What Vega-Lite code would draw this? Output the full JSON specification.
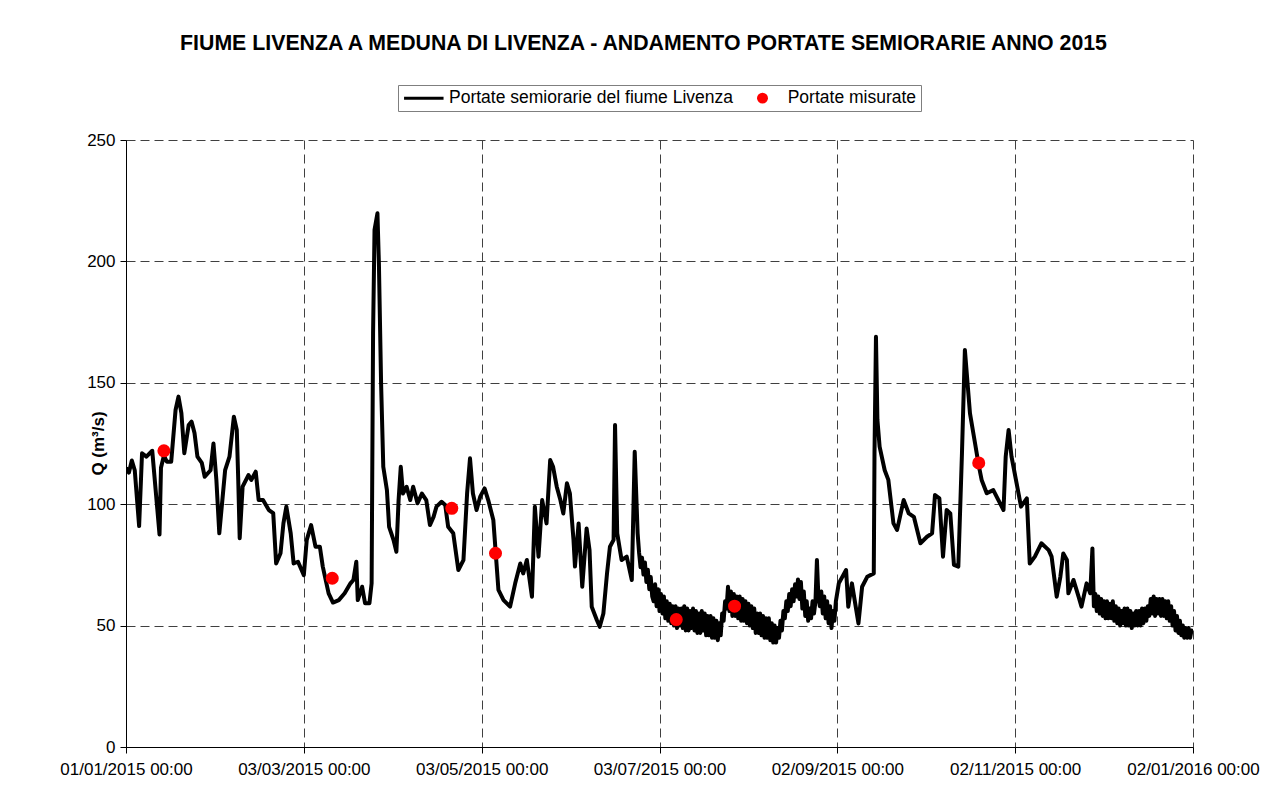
{
  "$schema": "https://vega.github.io/schema/vega-lite/v6.json",
  "width": 1067,
  "height": 607,
  "autosize": {"type": "none"},
  "padding": {"left": 126, "top": 140, "right": 77, "bottom": 51},
  "background": "white",
  "config": {"font": "Liberation Sans", "view": {"stroke": null}},
  "title": {
    "text": "FIUME LIVENZA A MEDUNA DI LIVENZA - ANDAMENTO PORTATE SEMIORARIE ANNO 2015",
    "fontSize": 21.3,
    "fontWeight": "bold",
    "color": "black",
    "frame": "group",
    "anchor": "middle",
    "dx": -16,
    "dy": -30,
    "offset": 0
  },
  "datasets": {
    "flow": [
      {"t": "2015-01-01T00:00", "q": 115},
      {"t": "2015-01-02T00:00", "q": 113},
      {"t": "2015-01-03T00:00", "q": 118},
      {"t": "2015-01-04T00:00", "q": 114},
      {"t": "2015-01-05T12:00", "q": 91},
      {"t": "2015-01-06T12:00", "q": 121},
      {"t": "2015-01-08T00:00", "q": 119.6},
      {"t": "2015-01-10T00:00", "q": 122},
      {"t": "2015-01-12T12:00", "q": 87.5},
      {"t": "2015-01-13T00:00", "q": 115},
      {"t": "2015-01-14T00:00", "q": 120},
      {"t": "2015-01-15T00:00", "q": 117.5},
      {"t": "2015-01-16T12:00", "q": 117.5},
      {"t": "2015-01-18T00:00", "q": 138.8},
      {"t": "2015-01-19T00:00", "q": 144.3},
      {"t": "2015-01-20T00:00", "q": 137.5},
      {"t": "2015-01-21T00:00", "q": 121},
      {"t": "2015-01-22T12:00", "q": 132.6},
      {"t": "2015-01-23T12:00", "q": 134},
      {"t": "2015-01-24T12:00", "q": 129.3},
      {"t": "2015-01-25T12:00", "q": 119.6},
      {"t": "2015-01-27T00:00", "q": 117},
      {"t": "2015-01-28T00:00", "q": 111.3},
      {"t": "2015-01-30T00:00", "q": 114},
      {"t": "2015-01-31T00:00", "q": 125},
      {"t": "2015-02-01T00:00", "q": 110},
      {"t": "2015-02-02T00:00", "q": 88},
      {"t": "2015-02-04T00:00", "q": 114},
      {"t": "2015-02-05T12:00", "q": 119.6},
      {"t": "2015-02-07T00:00", "q": 136},
      {"t": "2015-02-08T00:00", "q": 130.6},
      {"t": "2015-02-08T12:00", "q": 110},
      {"t": "2015-02-09T00:00", "q": 86},
      {"t": "2015-02-10T00:00", "q": 107.2},
      {"t": "2015-02-12T00:00", "q": 112},
      {"t": "2015-02-13T00:00", "q": 110},
      {"t": "2015-02-14T12:00", "q": 113.4},
      {"t": "2015-02-15T12:00", "q": 101.7},
      {"t": "2015-02-17T00:00", "q": 101.7},
      {"t": "2015-02-19T00:00", "q": 97.6},
      {"t": "2015-02-20T12:00", "q": 96.3},
      {"t": "2015-02-21T12:00", "q": 75.6},
      {"t": "2015-02-23T00:00", "q": 79.8},
      {"t": "2015-02-24T00:00", "q": 92.1},
      {"t": "2015-02-25T00:00", "q": 99},
      {"t": "2015-02-26T12:00", "q": 88},
      {"t": "2015-02-27T12:00", "q": 75.6},
      {"t": "2015-03-01T00:00", "q": 76.3},
      {"t": "2015-03-03T00:00", "q": 70.8},
      {"t": "2015-03-04T00:00", "q": 85.3},
      {"t": "2015-03-05T12:00", "q": 91.4},
      {"t": "2015-03-07T00:00", "q": 82.5},
      {"t": "2015-03-08T12:00", "q": 82.5},
      {"t": "2015-03-09T12:00", "q": 74.3},
      {"t": "2015-03-11T12:00", "q": 63.3},
      {"t": "2015-03-13T00:00", "q": 59.5},
      {"t": "2015-03-15T00:00", "q": 60.5},
      {"t": "2015-03-17T00:00", "q": 63.3},
      {"t": "2015-03-19T00:00", "q": 67.4},
      {"t": "2015-03-20T00:00", "q": 68.8},
      {"t": "2015-03-21T00:00", "q": 76.3},
      {"t": "2015-03-21T12:00", "q": 60.5},
      {"t": "2015-03-23T00:00", "q": 66},
      {"t": "2015-03-24T00:00", "q": 59.2},
      {"t": "2015-03-25T12:00", "q": 59.2},
      {"t": "2015-03-26T06:00", "q": 67.4},
      {"t": "2015-03-26T18:00", "q": 170.4},
      {"t": "2015-03-27T06:00", "q": 213},
      {"t": "2015-03-28T06:00", "q": 219.8},
      {"t": "2015-03-28T18:00", "q": 199.2},
      {"t": "2015-03-29T12:00", "q": 149.8},
      {"t": "2015-03-30T06:00", "q": 115.4},
      {"t": "2015-03-31T12:00", "q": 105.8},
      {"t": "2015-04-01T06:00", "q": 90.7},
      {"t": "2015-04-02T18:00", "q": 85.3},
      {"t": "2015-04-03T18:00", "q": 80.4},
      {"t": "2015-04-04T12:00", "q": 101.7},
      {"t": "2015-04-05T06:00", "q": 115.4},
      {"t": "2015-04-06T00:00", "q": 104.4},
      {"t": "2015-04-07T06:00", "q": 107.2},
      {"t": "2015-04-08T12:00", "q": 101.7},
      {"t": "2015-04-09T12:00", "q": 107.2},
      {"t": "2015-04-11T00:00", "q": 100.4},
      {"t": "2015-04-12T12:00", "q": 104.4},
      {"t": "2015-04-14T00:00", "q": 101.7},
      {"t": "2015-04-15T06:00", "q": 91.4},
      {"t": "2015-04-16T12:00", "q": 94.8},
      {"t": "2015-04-17T12:00", "q": 99},
      {"t": "2015-04-19T06:00", "q": 101},
      {"t": "2015-04-20T12:00", "q": 99.7},
      {"t": "2015-04-21T12:00", "q": 90.7},
      {"t": "2015-04-23T06:00", "q": 88},
      {"t": "2015-04-25T00:00", "q": 72.9},
      {"t": "2015-04-26T18:00", "q": 77},
      {"t": "2015-04-28T00:00", "q": 104.4},
      {"t": "2015-04-29T00:00", "q": 118.9},
      {"t": "2015-04-30T00:00", "q": 104.4},
      {"t": "2015-05-01T06:00", "q": 97.6},
      {"t": "2015-05-02T12:00", "q": 103.1},
      {"t": "2015-05-04T00:00", "q": 106.5},
      {"t": "2015-05-05T06:00", "q": 101.7},
      {"t": "2015-05-07T00:00", "q": 93.5},
      {"t": "2015-05-08T18:00", "q": 64.7},
      {"t": "2015-05-10T12:00", "q": 60.5},
      {"t": "2015-05-12T18:00", "q": 57.8},
      {"t": "2015-05-14T12:00", "q": 67.4},
      {"t": "2015-05-16T06:00", "q": 75.6},
      {"t": "2015-05-17T06:00", "q": 71.5},
      {"t": "2015-05-18T12:00", "q": 77},
      {"t": "2015-05-20T06:00", "q": 61.9},
      {"t": "2015-05-21T06:00", "q": 99},
      {"t": "2015-05-22T12:00", "q": 78.4},
      {"t": "2015-05-23T18:00", "q": 101.7},
      {"t": "2015-05-25T06:00", "q": 92.1},
      {"t": "2015-05-26T12:00", "q": 118.2},
      {"t": "2015-05-27T12:00", "q": 115.4},
      {"t": "2015-05-28T18:00", "q": 107.2},
      {"t": "2015-05-30T00:00", "q": 101.7},
      {"t": "2015-05-31T00:00", "q": 96.2},
      {"t": "2015-06-01T06:00", "q": 108.6},
      {"t": "2015-06-02T06:00", "q": 104.5},
      {"t": "2015-06-03T12:00", "q": 85.3},
      {"t": "2015-06-04T00:00", "q": 74.3},
      {"t": "2015-06-05T06:00", "q": 92.1},
      {"t": "2015-06-06T12:00", "q": 66},
      {"t": "2015-06-08T00:00", "q": 90},
      {"t": "2015-06-09T00:00", "q": 81.1},
      {"t": "2015-06-09T18:00", "q": 57.8},
      {"t": "2015-06-11T12:00", "q": 52.3},
      {"t": "2015-06-12T12:00", "q": 49.5},
      {"t": "2015-06-13T18:00", "q": 55},
      {"t": "2015-06-15T00:00", "q": 71.5},
      {"t": "2015-06-16T00:00", "q": 82.5},
      {"t": "2015-06-17T06:00", "q": 85.3},
      {"t": "2015-06-17T18:00", "q": 132.6},
      {"t": "2015-06-18T12:00", "q": 88},
      {"t": "2015-06-20T00:00", "q": 77},
      {"t": "2015-06-21T18:00", "q": 78.4},
      {"t": "2015-06-23T12:00", "q": 68.8},
      {"t": "2015-06-24T12:00", "q": 121.6},
      {"t": "2015-06-25T12:00", "q": 88},
      {"t": "2015-06-26T00:00", "q": 80},
      {"t": "2015-06-26T12:00", "q": 74},
      {"t": "2015-06-27T00:00", "q": 78},
      {"t": "2015-06-27T12:00", "q": 71},
      {"t": "2015-06-28T00:00", "q": 76},
      {"t": "2015-06-28T12:00", "q": 68},
      {"t": "2015-06-29T00:00", "q": 73},
      {"t": "2015-06-29T12:00", "q": 65},
      {"t": "2015-06-30T00:00", "q": 70},
      {"t": "2015-06-30T12:00", "q": 62},
      {"t": "2015-07-01T00:00", "q": 60}, {"t": "2015-07-01T12:00", "q": 67},
      {"t": "2015-07-02T00:00", "q": 58}, {"t": "2015-07-02T12:00", "q": 65},
      {"t": "2015-07-03T00:00", "q": 56}, {"t": "2015-07-03T12:00", "q": 63},
      {"t": "2015-07-04T00:00", "q": 55}, {"t": "2015-07-04T12:00", "q": 62},
      {"t": "2015-07-05T00:00", "q": 53}, {"t": "2015-07-05T12:00", "q": 60},
      {"t": "2015-07-06T00:00", "q": 52}, {"t": "2015-07-06T12:00", "q": 59},
      {"t": "2015-07-07T00:00", "q": 51}, {"t": "2015-07-07T12:00", "q": 58},
      {"t": "2015-07-08T00:00", "q": 50}, {"t": "2015-07-08T12:00", "q": 58},
      {"t": "2015-07-09T00:00", "q": 49}, {"t": "2015-07-09T12:00", "q": 57},
      {"t": "2015-07-10T00:00", "q": 50}, {"t": "2015-07-10T12:00", "q": 57},
      {"t": "2015-07-11T00:00", "q": 49}, {"t": "2015-07-11T12:00", "q": 58},
      {"t": "2015-07-12T00:00", "q": 48}, {"t": "2015-07-12T12:00", "q": 57},
      {"t": "2015-07-13T00:00", "q": 48}, {"t": "2015-07-13T12:00", "q": 56},
      {"t": "2015-07-14T00:00", "q": 49}, {"t": "2015-07-14T12:00", "q": 57},
      {"t": "2015-07-15T00:00", "q": 48}, {"t": "2015-07-15T12:00", "q": 56},
      {"t": "2015-07-16T00:00", "q": 47}, {"t": "2015-07-16T12:00", "q": 55},
      {"t": "2015-07-17T00:00", "q": 47}, {"t": "2015-07-17T12:00", "q": 56},
      {"t": "2015-07-18T00:00", "q": 48}, {"t": "2015-07-18T12:00", "q": 55},
      {"t": "2015-07-19T00:00", "q": 46}, {"t": "2015-07-19T12:00", "q": 54},
      {"t": "2015-07-20T00:00", "q": 46}, {"t": "2015-07-20T12:00", "q": 54},
      {"t": "2015-07-21T00:00", "q": 45}, {"t": "2015-07-21T12:00", "q": 53},
      {"t": "2015-07-22T00:00", "q": 45}, {"t": "2015-07-22T12:00", "q": 52},
      {"t": "2015-07-23T00:00", "q": 44}, {"t": "2015-07-23T12:00", "q": 51},
      {"t": "2015-07-24T00:00", "q": 46}, {"t": "2015-07-24T12:00", "q": 55},
      {"t": "2015-07-25T00:00", "q": 52}, {"t": "2015-07-25T12:00", "q": 60},
      {"t": "2015-07-26T00:00", "q": 57}, {"t": "2015-07-26T12:00", "q": 66},
      {"t": "2015-07-27T00:00", "q": 56}, {"t": "2015-07-27T12:00", "q": 64},
      {"t": "2015-07-28T00:00", "q": 54}, {"t": "2015-07-28T12:00", "q": 63},
      {"t": "2015-07-29T00:00", "q": 54}, {"t": "2015-07-29T12:00", "q": 62},
      {"t": "2015-07-30T00:00", "q": 53}, {"t": "2015-07-30T12:00", "q": 62},
      {"t": "2015-07-31T00:00", "q": 52}, {"t": "2015-07-31T12:00", "q": 61},
      {"t": "2015-08-01T00:00", "q": 52}, {"t": "2015-08-01T12:00", "q": 60},
      {"t": "2015-08-02T00:00", "q": 51}, {"t": "2015-08-02T12:00", "q": 59},
      {"t": "2015-08-03T00:00", "q": 50}, {"t": "2015-08-03T12:00", "q": 58},
      {"t": "2015-08-04T00:00", "q": 49}, {"t": "2015-08-04T12:00", "q": 57},
      {"t": "2015-08-05T00:00", "q": 47}, {"t": "2015-08-05T12:00", "q": 55},
      {"t": "2015-08-06T00:00", "q": 47}, {"t": "2015-08-06T12:00", "q": 55},
      {"t": "2015-08-07T00:00", "q": 46}, {"t": "2015-08-07T12:00", "q": 54},
      {"t": "2015-08-08T00:00", "q": 45}, {"t": "2015-08-08T12:00", "q": 53},
      {"t": "2015-08-09T00:00", "q": 45}, {"t": "2015-08-09T12:00", "q": 53},
      {"t": "2015-08-10T00:00", "q": 44}, {"t": "2015-08-10T12:00", "q": 51},
      {"t": "2015-08-11T00:00", "q": 43}, {"t": "2015-08-11T12:00", "q": 50},
      {"t": "2015-08-12T00:00", "q": 43}, {"t": "2015-08-12T12:00", "q": 49},
      {"t": "2015-08-13T00:00", "q": 45}, {"t": "2015-08-13T12:00", "q": 52},
      {"t": "2015-08-14T00:00", "q": 48}, {"t": "2015-08-14T12:00", "q": 56},
      {"t": "2015-08-15T00:00", "q": 53}, {"t": "2015-08-15T12:00", "q": 60},
      {"t": "2015-08-16T00:00", "q": 56}, {"t": "2015-08-16T12:00", "q": 63},
      {"t": "2015-08-17T00:00", "q": 58}, {"t": "2015-08-17T12:00", "q": 65},
      {"t": "2015-08-18T00:00", "q": 60}, {"t": "2015-08-18T12:00", "q": 67},
      {"t": "2015-08-19T00:00", "q": 62}, {"t": "2015-08-19T12:00", "q": 69},
      {"t": "2015-08-20T00:00", "q": 61}, {"t": "2015-08-20T12:00", "q": 68},
      {"t": "2015-08-21T00:00", "q": 57}, {"t": "2015-08-21T12:00", "q": 64},
      {"t": "2015-08-22T00:00", "q": 54}, {"t": "2015-08-22T12:00", "q": 60},
      {"t": "2015-08-23T00:00", "q": 52}, {"t": "2015-08-23T12:00", "q": 57},
      {"t": "2015-08-24T00:00", "q": 53}, {"t": "2015-08-24T12:00", "q": 60},
      {"t": "2015-08-25T00:00", "q": 55}, {"t": "2015-08-25T12:00", "q": 60},
      {"t": "2015-08-26T00:00", "q": 77}, {"t": "2015-08-26T12:00", "q": 62},
      {"t": "2015-08-27T00:00", "q": 58}, {"t": "2015-08-27T12:00", "q": 64},
      {"t": "2015-08-28T00:00", "q": 55}, {"t": "2015-08-28T12:00", "q": 62},
      {"t": "2015-08-29T00:00", "q": 53}, {"t": "2015-08-29T12:00", "q": 60},
      {"t": "2015-08-30T00:00", "q": 51}, {"t": "2015-08-30T12:00", "q": 58},
      {"t": "2015-08-31T00:00", "q": 49}, {"t": "2015-08-31T12:00", "q": 56},
      {"t": "2015-09-01T00:00", "q": 52}, {"t": "2015-09-01T12:00", "q": 60},
      {"t": "2015-09-02T12:00", "q": 67.4},
      {"t": "2015-09-05T00:00", "q": 72.9},
      {"t": "2015-09-05T18:00", "q": 57.8},
      {"t": "2015-09-07T00:00", "q": 67.4},
      {"t": "2015-09-09T06:00", "q": 50.9},
      {"t": "2015-09-10T12:00", "q": 66},
      {"t": "2015-09-12T06:00", "q": 70.1},
      {"t": "2015-09-14T12:00", "q": 71.5},
      {"t": "2015-09-14T18:00", "q": 121},
      {"t": "2015-09-15T06:00", "q": 169},
      {"t": "2015-09-15T18:00", "q": 134.7},
      {"t": "2015-09-16T12:00", "q": 123.7},
      {"t": "2015-09-18T06:00", "q": 114},
      {"t": "2015-09-19T12:00", "q": 110},
      {"t": "2015-09-21T06:00", "q": 92.1},
      {"t": "2015-09-22T12:00", "q": 89.4},
      {"t": "2015-09-24T18:00", "q": 101.7},
      {"t": "2015-09-26T12:00", "q": 96.2},
      {"t": "2015-09-28T06:00", "q": 94.8},
      {"t": "2015-09-30T12:00", "q": 83.9},
      {"t": "2015-10-02T18:00", "q": 86.6},
      {"t": "2015-10-04T12:00", "q": 88},
      {"t": "2015-10-05T12:00", "q": 103.8},
      {"t": "2015-10-07T00:00", "q": 102.4},
      {"t": "2015-10-08T06:00", "q": 78.4},
      {"t": "2015-10-09T12:00", "q": 97.6},
      {"t": "2015-10-10T18:00", "q": 96.2},
      {"t": "2015-10-12T00:00", "q": 75},
      {"t": "2015-10-13T12:00", "q": 74.3},
      {"t": "2015-10-14T18:00", "q": 121},
      {"t": "2015-10-15T18:00", "q": 163.5},
      {"t": "2015-10-17T12:00", "q": 137.4},
      {"t": "2015-10-19T06:00", "q": 125},
      {"t": "2015-10-20T12:00", "q": 116},
      {"t": "2015-10-21T12:00", "q": 110},
      {"t": "2015-10-23T06:00", "q": 104.5},
      {"t": "2015-10-25T12:00", "q": 105.8},
      {"t": "2015-10-27T06:00", "q": 101.7},
      {"t": "2015-10-29T00:00", "q": 97.6},
      {"t": "2015-10-29T18:00", "q": 119.6},
      {"t": "2015-10-30T18:00", "q": 130.6},
      {"t": "2015-10-31T18:00", "q": 119.6},
      {"t": "2015-11-02T12:00", "q": 108.6},
      {"t": "2015-11-04T00:00", "q": 99},
      {"t": "2015-11-06T00:00", "q": 102.4},
      {"t": "2015-11-07T00:00", "q": 75.6},
      {"t": "2015-11-08T18:00", "q": 78.4},
      {"t": "2015-11-11T00:00", "q": 83.9},
      {"t": "2015-11-13T12:00", "q": 81.1},
      {"t": "2015-11-14T12:00", "q": 78.4},
      {"t": "2015-11-16T06:00", "q": 61.9},
      {"t": "2015-11-17T12:00", "q": 70.1},
      {"t": "2015-11-18T12:00", "q": 79.7},
      {"t": "2015-11-19T18:00", "q": 77},
      {"t": "2015-11-20T06:00", "q": 63.3},
      {"t": "2015-11-22T00:00", "q": 68.8},
      {"t": "2015-11-23T18:00", "q": 61.9},
      {"t": "2015-11-24T18:00", "q": 57.8},
      {"t": "2015-11-26T12:00", "q": 67.4},
      {"t": "2015-11-27T18:00", "q": 63.3},
      {"t": "2015-11-28T12:00", "q": 81.8},
      {"t": "2015-11-29T00:00", "q": 58}, {"t": "2015-11-29T12:00", "q": 63},
      {"t": "2015-11-30T00:00", "q": 56}, {"t": "2015-11-30T12:00", "q": 62},
      {"t": "2015-12-01T00:00", "q": 55}, {"t": "2015-12-01T12:00", "q": 61},
      {"t": "2015-12-02T00:00", "q": 54}, {"t": "2015-12-02T12:00", "q": 60},
      {"t": "2015-12-03T00:00", "q": 53}, {"t": "2015-12-03T12:00", "q": 60},
      {"t": "2015-12-04T00:00", "q": 53}, {"t": "2015-12-04T12:00", "q": 59},
      {"t": "2015-12-05T00:00", "q": 53}, {"t": "2015-12-05T12:00", "q": 60},
      {"t": "2015-12-06T00:00", "q": 52}, {"t": "2015-12-06T12:00", "q": 58},
      {"t": "2015-12-07T00:00", "q": 51}, {"t": "2015-12-07T12:00", "q": 57},
      {"t": "2015-12-08T00:00", "q": 50}, {"t": "2015-12-08T12:00", "q": 56},
      {"t": "2015-12-09T00:00", "q": 51}, {"t": "2015-12-09T12:00", "q": 57},
      {"t": "2015-12-10T00:00", "q": 50}, {"t": "2015-12-10T12:00", "q": 57},
      {"t": "2015-12-11T00:00", "q": 50}, {"t": "2015-12-11T12:00", "q": 56},
      {"t": "2015-12-12T00:00", "q": 49}, {"t": "2015-12-12T12:00", "q": 55},
      {"t": "2015-12-13T00:00", "q": 50}, {"t": "2015-12-13T12:00", "q": 56},
      {"t": "2015-12-14T00:00", "q": 50}, {"t": "2015-12-14T12:00", "q": 56},
      {"t": "2015-12-15T00:00", "q": 50}, {"t": "2015-12-15T12:00", "q": 57},
      {"t": "2015-12-16T00:00", "q": 51}, {"t": "2015-12-16T12:00", "q": 57},
      {"t": "2015-12-17T00:00", "q": 52}, {"t": "2015-12-17T12:00", "q": 58},
      {"t": "2015-12-18T00:00", "q": 54}, {"t": "2015-12-18T12:00", "q": 61},
      {"t": "2015-12-19T00:00", "q": 55}, {"t": "2015-12-19T12:00", "q": 62},
      {"t": "2015-12-20T00:00", "q": 54}, {"t": "2015-12-20T12:00", "q": 61},
      {"t": "2015-12-21T00:00", "q": 55}, {"t": "2015-12-21T12:00", "q": 61},
      {"t": "2015-12-22T00:00", "q": 54}, {"t": "2015-12-22T12:00", "q": 61},
      {"t": "2015-12-23T00:00", "q": 54}, {"t": "2015-12-23T12:00", "q": 60},
      {"t": "2015-12-24T00:00", "q": 53}, {"t": "2015-12-24T12:00", "q": 60},
      {"t": "2015-12-25T00:00", "q": 52}, {"t": "2015-12-25T12:00", "q": 58},
      {"t": "2015-12-26T00:00", "q": 50}, {"t": "2015-12-26T12:00", "q": 56},
      {"t": "2015-12-27T00:00", "q": 48}, {"t": "2015-12-27T12:00", "q": 54},
      {"t": "2015-12-28T00:00", "q": 47}, {"t": "2015-12-28T12:00", "q": 52},
      {"t": "2015-12-29T00:00", "q": 46}, {"t": "2015-12-29T12:00", "q": 50},
      {"t": "2015-12-30T00:00", "q": 45}, {"t": "2015-12-30T12:00", "q": 49},
      {"t": "2015-12-31T00:00", "q": 45}, {"t": "2015-12-31T12:00", "q": 49},
      {"t": "2016-01-01T00:00", "q": 45}, {"t": "2016-01-01T12:00", "q": 48},
      {"t": "2016-01-02T00:00", "q": 47}
    ],
    "meas": [
      {"t": "2015-01-14T00:00", "q": 122},
      {"t": "2015-03-12T18:00", "q": 69.5},
      {"t": "2015-04-22T18:00", "q": 98.3},
      {"t": "2015-05-07T18:00", "q": 79.8},
      {"t": "2015-07-08T18:00", "q": 52.5},
      {"t": "2015-07-28T18:00", "q": 58},
      {"t": "2015-10-20T12:00", "q": 117}
    ]
  },
  "encoding": {
    "x": {
      "field": "t",
      "type": "temporal",
      "scale": {"domain": [{"year": 2015, "month": 1, "date": 1}, {"year": 2016, "month": 1, "date": 2}]},
      "axis": {
        "title": null,
        "values": [
          {"year": 2015, "month": 1, "date": 1},
          {"year": 2015, "month": 3, "date": 3},
          {"year": 2015, "month": 5, "date": 3},
          {"year": 2015, "month": 7, "date": 3},
          {"year": 2015, "month": 9, "date": 2},
          {"year": 2015, "month": 11, "date": 2},
          {"year": 2016, "month": 1, "date": 2}
        ],
        "format": "%d/%m/%Y %H:%M",
        "labelFontSize": 17,
        "labelColor": "black",
        "labelFlush": false,
        "labelOverlap": false,
        "labelPadding": 8,
        "tickColor": "black",
        "tickSize": 6,
        "domainColor": "black",
        "domainWidth": 1,
        "grid": true,
        "gridColor": "#404040",
        "gridDash": [9, 5],
        "gridWidth": 1
      }
    },
    "y": {
      "field": "q",
      "type": "quantitative",
      "scale": {"domain": [0, 250], "nice": false},
      "axis": {
        "title": "Q (m³/s)",
        "titleFontSize": 17,
        "titleFontWeight": "bold",
        "titleColor": "black",
        "titleX": -28,
        "titleY": 303,
        "titleAngle": -90,
        "titleAlign": "center",
        "titleBaseline": "middle",
        "values": [0, 50, 100, 150, 200, 250],
        "labelFontSize": 17,
        "labelColor": "black",
        "labelPadding": 5,
        "tickColor": "black",
        "tickSize": 6,
        "domainColor": "black",
        "grid": true,
        "gridColor": "#404040",
        "gridDash": [9, 5],
        "gridWidth": 1
      }
    }
  },
  "layer": [
    {
      "data": {"name": "flow"},
      "mark": {"type": "line", "strokeWidth": 4, "strokeJoin": "round", "clip": true},
      "encoding": {
        "color": {
          "datum": "Portate semiorarie del fiume Livenza",
          "type": "nominal",
          "scale": {"domain": ["Portate semiorarie del fiume Livenza", "Portate misurate"], "range": ["black", "#ff0000"]},
          "legend": {
            "orient": "none",
            "legendX": 272,
            "legendY": -55,
            "direction": "horizontal",
            "columns": 2,
            "title": null,
            "labelFontSize": 17.5,
            "labelColor": "black",
            "labelLimit": 500,
            "columnPadding": 6.7,
            "padding": 4,
            "strokeColor": "#7f7f7f",
            "fillColor": "white",
            "encode": {
              "symbols": {
                "update": {
                  "x": {"value": 21.8},
                  "shape": {"signal": "datum.value === 'Portate misurate' ? 'circle' : 'stroke'"},
                  "size": {"signal": "datum.value === 'Portate misurate' ? 120 : 1560"},
                  "fill": {"signal": "datum.value === 'Portate misurate' ? '#ff0000' : 'transparent'"},
                  "stroke": {"signal": "datum.value === 'Portate misurate' ? '#ff0000' : 'black'"},
                  "strokeWidth": {"signal": "datum.value === 'Portate misurate' ? 0 : 3"},
                  "opacity": {"value": 1}
                }
              },
              "labels": {
                "update": {
                  "x": {"value": 47}
                }
              }
            }
          }
        }
      }
    },
    {
      "data": {"name": "meas"},
      "mark": {"type": "point", "filled": true, "size": 170, "opacity": 1},
      "encoding": {
        "color": {"datum": "Portate misurate", "type": "nominal"}
      }
    }
  ]
}
